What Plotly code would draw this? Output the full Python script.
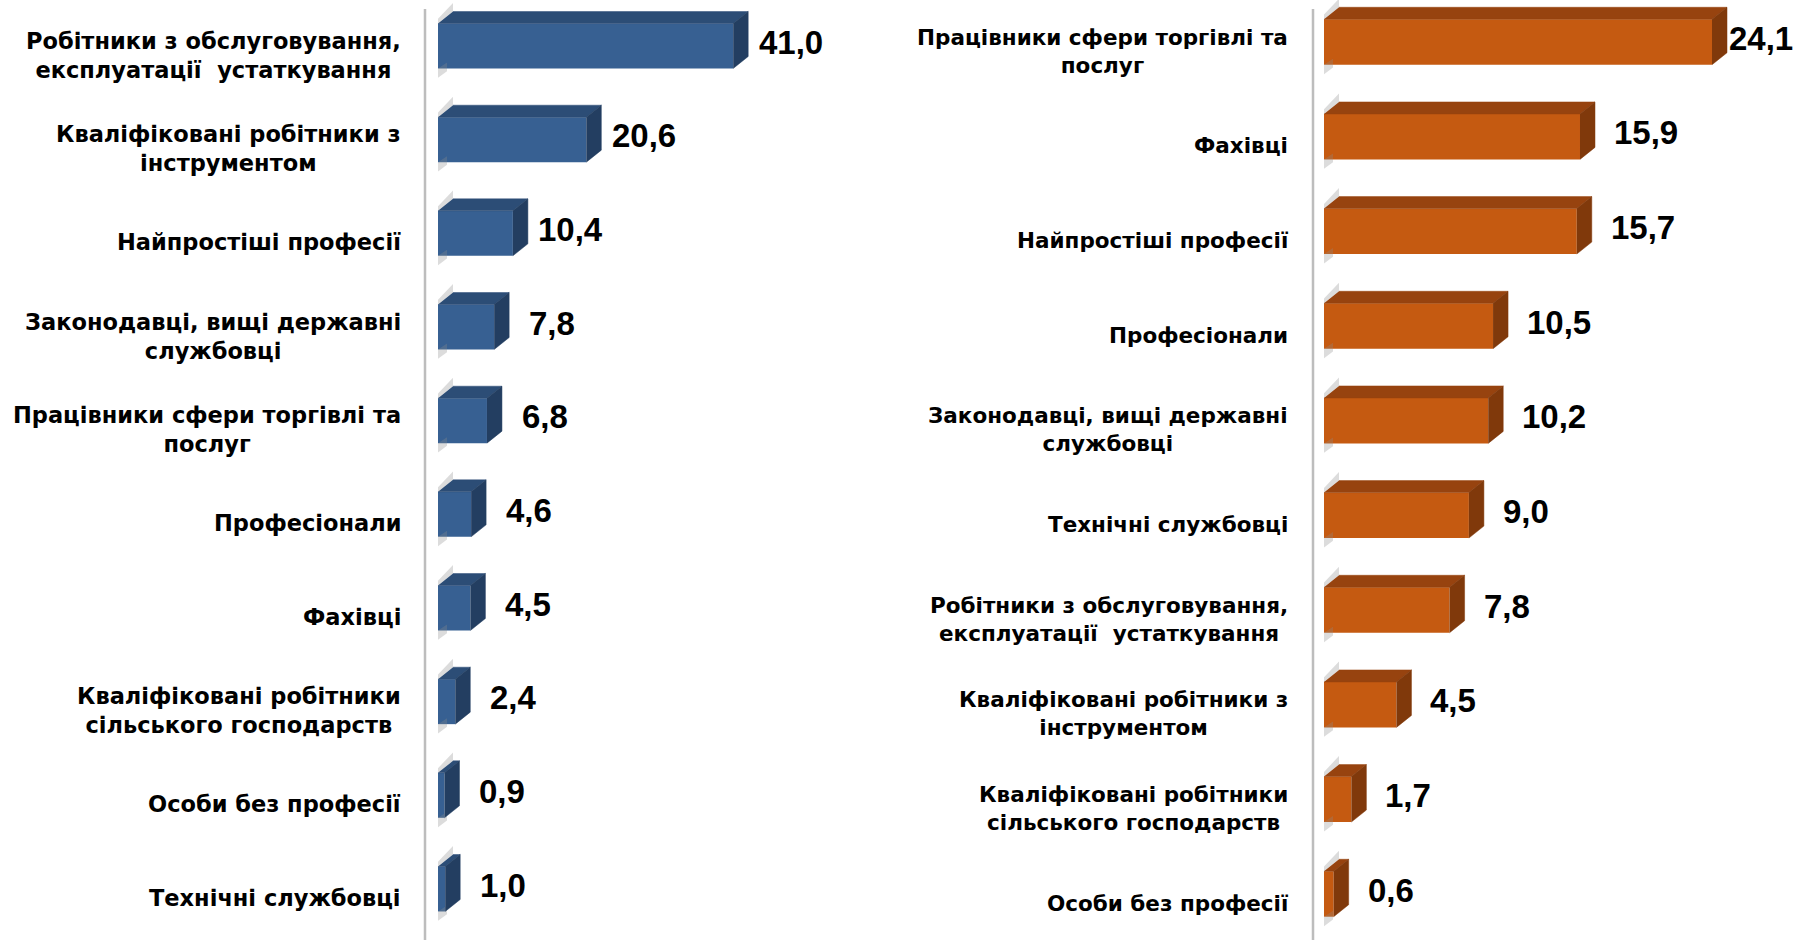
import plotly.graph_objects as go

# ---------------- data ----------------
left_categories = [
    "Робітники з обслуговування,<br>експлуатації&nbsp; устаткування",
    "Кваліфіковані робітники з<br>інструментом",
    "Найпростіші професії",
    "Законодавці, вищі державні<br>службовці",
    "Працівники сфери торгівлі та<br>послуг",
    "Професіонали",
    "Фахівці",
    "Кваліфіковані робітники<br>сільського господарств",
    "Особи без професії",
    "Технічні службовці",
]
left_values = [41.0, 20.6, 10.4, 7.8, 6.8, 4.6, 4.5, 2.4, 0.9, 1.0]

right_categories = [
    "Працівники сфери торгівлі та<br>послуг",
    "Фахівці",
    "Найпростіші професії",
    "Професіонали",
    "Законодавці, вищі державні<br>службовці",
    "Технічні службовці",
    "Робітники з обслуговування,<br>експлуатації&nbsp; устаткування",
    "Кваліфіковані робітники з<br>інструментом",
    "Кваліфіковані робітники<br>сільського господарств",
    "Особи без професії",
]
right_values = [24.1, 15.9, 15.7, 10.5, 10.2, 9.0, 7.8, 4.5, 1.7, 0.6]

# ---------------- layout geometry (pixels) ----------------
W, H = 1801, 940
LABEL_FONT = "DejaVu Sans, Verdana, sans-serif"
VALUE_FONT = "Liberation Sans, Arial, sans-serif"
VALUE_SIZE = 33
panels = [
    dict(cats=left_categories, vals=left_values, ax="", zero_px=438, ppu=7.2,
         axis_px=425, right_px=900, yc0=46, yc9=889, label_right=403, label_size=22.5,
         front="#376092", top="#2C4D76", side="#233E61",
         val_anchor="center", val_shift=58),
    dict(cats=right_categories, vals=right_values, ax="2", zero_px=1324, ppu=16.1,
         axis_px=1313, right_px=W, yc0=42, yc9=894, label_right=1290, label_size=21.5,
         front="#C55A11", top="#97430F", side="#80390B",
         val_anchor="left", val_shift=32),
]
BAR_W = 0.48
DEPTH_X_PX, DEPTH_Y_PX = 15, 12

fig = go.Figure()
annotations = []
shapes = []

for p in panels:
    n = len(p["cats"])
    pos = list(range(n))
    ppu_y = (p["yc9"] - p["yc0"]) / (n - 1)
    y_top = -p["yc0"] / ppu_y
    y_bot = (n - 1) + (H - p["yc9"]) / ppu_y
    xmin = -(p["zero_px"] - p["axis_px"]) / p["ppu"]
    xmax = (p["right_px"] - p["zero_px"]) / p["ppu"]
    dx = DEPTH_X_PX / p["ppu"]
    dy = DEPTH_Y_PX / ppu_y
    xa, ya = "x" + p["ax"], "y" + p["ax"]

    # shadows, top faces, side faces
    shx, shy, tx, ty, sx, sy = [], [], [], [], [], []
    for i, v in zip(pos, p["vals"]):
        t = i - BAR_W / 2
        b = i + BAR_W / 2
        shx += [0, dx, dx, 0, None]
        shy += [t, t - dy, t - dy - 0.09, t - 0.05, None]
        shx += [0, 0.6 * dx, 0.6 * dx, 0, None]
        shy += [b, b - 0.5 * dy, b - 0.4 * dy + 0.08, b + 0.1, None]
        tx += [0, v, v + dx, dx, None]
        ty += [t, t, t - dy, t - dy, None]
        sx += [v, v + dx, v + dx, v, None]
        sy += [t, t - dy, b - dy, b, None]

    fig.add_trace(go.Scatter(x=shx, y=shy, xaxis=xa, yaxis=ya, mode="none",
                             fill="toself", fillcolor="rgba(140,140,140,0.30)",
                             hoverinfo="skip", showlegend=False))
    fig.add_trace(go.Bar(x=p["vals"], y=pos, orientation="h", width=BAR_W,
                         xaxis=xa, yaxis=ya, marker=dict(color=p["front"], line=dict(width=0)),
                         showlegend=False))
    fig.add_trace(go.Scatter(x=tx, y=ty, xaxis=xa, yaxis=ya, mode="lines",
                             line=dict(width=0.5, color=p["top"]),
                             fill="toself", fillcolor=p["top"],
                             hoverinfo="skip", showlegend=False))
    fig.add_trace(go.Scatter(x=sx, y=sy, xaxis=xa, yaxis=ya, mode="lines",
                             line=dict(width=0.5, color=p["side"]),
                             fill="toself", fillcolor=p["side"],
                             hoverinfo="skip", showlegend=False))

    # category labels
    for i, c in zip(pos, p["cats"]):
        annotations.append(dict(
            x=p["label_right"] / W, xref="paper", xanchor="right",
            y=i, yref=ya, yanchor="middle", yshift=-9,
            text=c, align="center", showarrow=False,
            font=dict(family=LABEL_FONT, size=p["label_size"], color="#000000", weight="bold")))

    # value labels
    for i, v in zip(pos, p["vals"]):
        label = f"{v:.1f}".replace(".", ",")
        shift = p["val_shift"]
        est_w = 0.556 * VALUE_SIZE * (len(label) - 1) + 0.278 * VALUE_SIZE
        front_end = p["zero_px"] + v * p["ppu"]
        if p["val_anchor"] == "left" and front_end + shift + est_w > W - 10:
            shift = (W - 10 - est_w) - front_end
        annotations.append(dict(
            x=v, xref=xa, xanchor=p["val_anchor"], xshift=shift,
            y=i, yref=ya, yanchor="middle", yshift=4,
            text=label, showarrow=False,
            font=dict(family=VALUE_FONT, size=VALUE_SIZE, color="#000000", weight="bold")))

    # vertical axis line
    shapes.append(dict(type="line", xref="paper", yref="paper",
                       x0=p["axis_px"] / W, x1=p["axis_px"] / W,
                       y0=0, y1=1 - 9 / H,
                       line=dict(color="#BDBDBD", width=2.5)))

    axis_key = "xaxis" + p["ax"]
    yaxis_key = "yaxis" + p["ax"]
    fig.layout[axis_key] = dict(domain=[p["axis_px"] / W, p["right_px"] / W],
                                range=[xmin, xmax], visible=False, fixedrange=True,
                                anchor=ya)
    fig.layout[yaxis_key] = dict(domain=[0, 1], range=[y_bot, y_top], visible=False,
                                 fixedrange=True, anchor=xa)

fig.update_layout(
    width=W, height=H,
    margin=dict(l=0, r=0, t=0, b=0),
    paper_bgcolor="white", plot_bgcolor="rgba(0,0,0,0)",
    annotations=annotations, shapes=shapes,
    barmode="overlay", showlegend=False,
)

fig.write_html("out.html", config={"displayModeBar": False},
               post_script="document.body.style.margin='0';document.body.style.overflow='hidden';")
